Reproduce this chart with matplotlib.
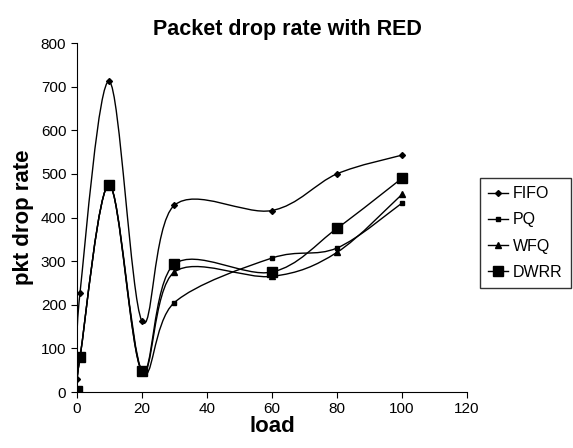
import matplotlib
matplotlib.use('Agg')
import matplotlib.pyplot as plt
import numpy as np
from matplotlib.path import Path
from matplotlib.patches import PathPatch

plt.rcParams['font.family'] = ['Liberation Sans', 'DejaVu Sans']

load = [0, 1, 10, 20, 30, 60, 80, 100]
fifo = [30, 228, 712, 163, 428, 416, 500, 543]
pq = [3, 80, 475, 48, 205, 307, 330, 433]
wfq = [3, 80, 475, 48, 275, 265, 320, 453]
dwrr = [3, 80, 475, 48, 293, 275, 375, 490]

series = [('FIFO', fifo, 'D', 3), ('PQ', pq, 's', 3.5),
          ('WFQ', wfq, '^', 4), ('DWRR', dwrr, 's', 6.5)]


def smooth_path(x, y):
    # Excel style smoothed line: bezier segments through each point
    pts = np.column_stack([x, y]).astype(float)
    n = len(pts)
    verts = [pts[0]]
    codes = [Path.MOVETO]
    for i in range(n - 1):
        p0 = pts[max(i - 1, 0)]
        p1 = pts[i]
        p2 = pts[i + 1]
        p3 = pts[min(i + 2, n - 1)]
        c1 = p1 + (p2 - p0) / 6.0
        c2 = p2 - (p3 - p1) / 6.0
        verts += [c1, c2, p2]
        codes += [Path.CURVE4] * 3
    return Path(verts, codes)


fig = plt.figure(figsize=(5.73, 4.48), dpi=100)
ax = fig.add_axes([0.134, 0.125, 0.681, 0.779])

handles = []
for name, vals, mk, ms in series:
    ax.add_patch(PathPatch(smooth_path(load, vals), facecolor='none',
                           edgecolor='black', lw=1.0))
    ax.plot(load, vals, linestyle='none', marker=mk, markersize=ms,
            color='black')
    handles.append(plt.Line2D([], [], color='black', lw=1.0, marker=mk,
                              markersize=ms, label=name))

ax.set_xlim(0, 120)
ax.set_ylim(0, 800)
ax.set_xticks(range(0, 121, 20))
ax.set_yticks(range(0, 801, 100))
ax.spines['top'].set_visible(False)
ax.spines['right'].set_visible(False)
ax.tick_params(labelsize=11, direction='out', length=4, width=0.8)
ax.set_title('Packet drop rate with RED', fontsize=15.5, fontweight='bold', pad=6)
ax.title.set_x(0.54)
ax.set_xlabel('load', fontsize=16, fontweight='bold', labelpad=0)
ax.set_ylabel('pkt drop rate', fontsize=16, fontweight='bold', labelpad=5)

leg = fig.legend(handles=handles, loc='upper left', bbox_to_anchor=(0.823, 0.62),
                 frameon=True, fancybox=False, edgecolor='black', fontsize=11.5,
                 handlelength=1.3, handletextpad=0.3, labelspacing=0.7,
                 borderpad=0.5)
leg.get_frame().set_linewidth(1.0)

fig.savefig('out.png', dpi=100)
